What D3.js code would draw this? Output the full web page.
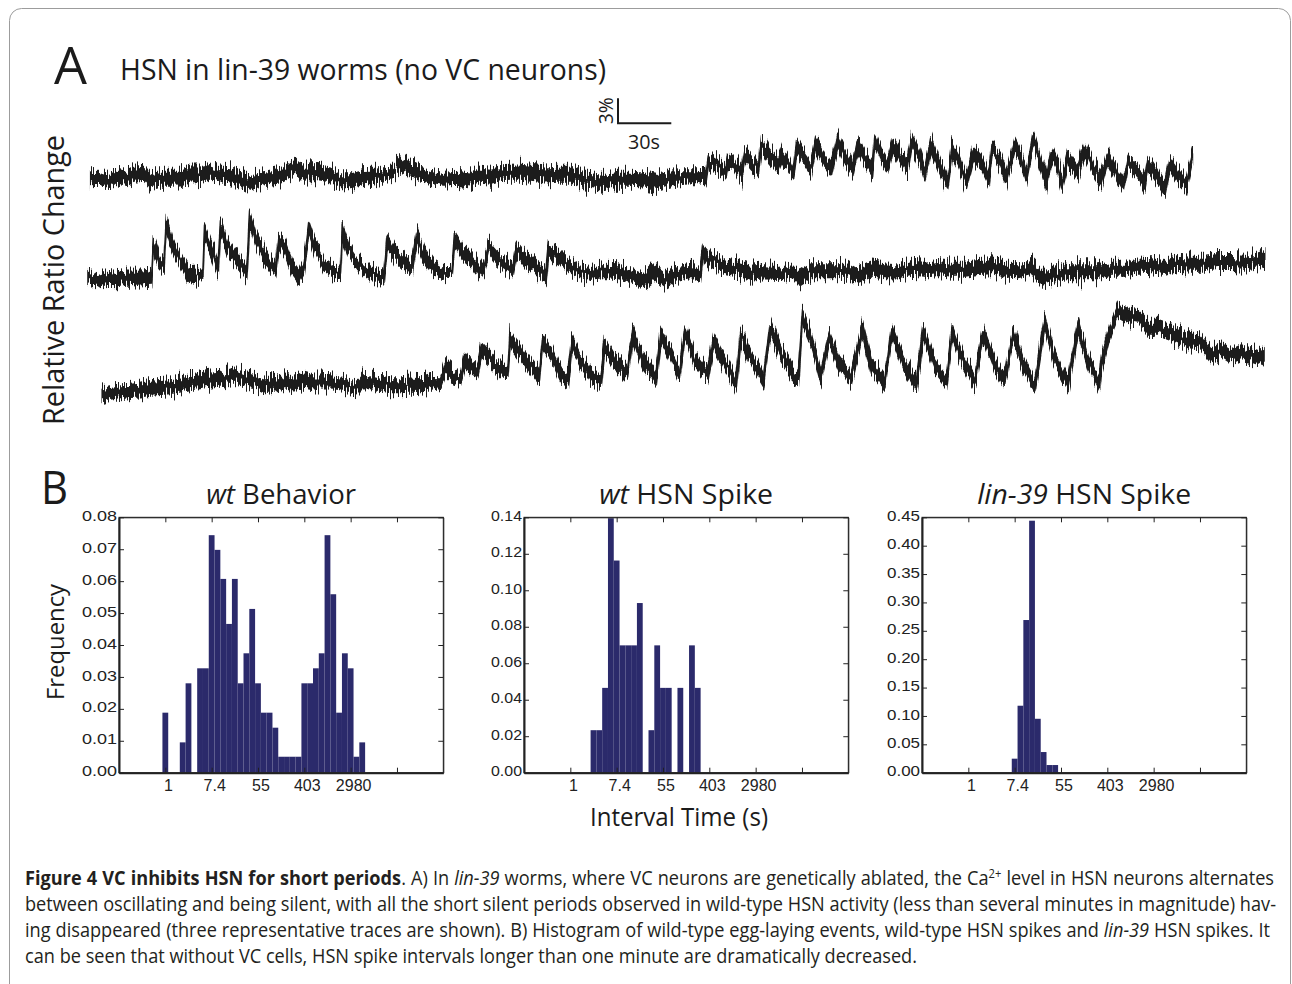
<!DOCTYPE html>
<html>
<head>
<meta charset="utf-8">
<title>Figure 4</title>
<script src="https://cdnjs.cloudflare.com/ajax/libs/d3/7.8.5/d3.min.js"></script>
<style>
  body { margin: 0; background: #fff; }
  svg { display: block; font-family: "Open Sans", sans-serif; }
</style>
</head>
<body>
<svg id="fig" width="1292" height="984">
  <defs>
    <!-- vertical-only jitter so the envelopes read as noisy recordings -->
    <filter id="jitter" x="-1%" y="-80%" width="102%" height="260%">
      <feTurbulence type="fractalNoise" baseFrequency="0.75 0.02" numOctaves="2" seed="7" result="n"/>
      <feComponentTransfer in="n" result="n2">
        <feFuncR type="linear" slope="0" intercept="0.5"/>
      </feComponentTransfer>
      <feDisplacementMap in="SourceGraphic" in2="n2" scale="26" xChannelSelector="R" yChannelSelector="G"/>
    </filter>
  </defs>
</svg>
<script>
// ---- panel A: HSN traces, [time (s), lower edge (%), upper edge (%)] ----
const trace1 = [
  [0.4,-1.4,1.7],[5.1,-0.8,1.2],[10.7,-2.0,1.6],[15.4,-0.6,1.6],[20.1,-1.6,2.0],[24.8,-0.8,2.2],[30.4,-0.4,2.0],
  [34.1,-1.4,1.2],[39.8,-0.8,1.2],[45.4,-1.2,1.6],[51.0,-0.8,1.3],[56.6,-0.6,1.8],[62.3,-0.3,1.6],[67.9,-0.7,2.6],
  [73.5,-1.8,3.0],[79.1,-1.4,2.4],[84.8,-1.8,2.2],[90.4,-1.8,1.0],[96.0,-0.8,1.0],[101.6,-0.5,1.3],[109.1,-0.3,1.6],
  [115.3,0.0,3.3],[120.4,-1.0,2.6],[127.9,-0.8,2.6],[135.4,-1.4,2.6],[141.0,-1.6,1.4],[146.6,-1.4,1.2],[154.1,-1.0,1.6],
  [161.6,-0.4,1.3],[169.1,0.0,1.6],[174.8,0.6,3.0],[180.4,-0.2,2.8],[186.0,-1.0,2.4],[191.6,-1.2,1.8],[199.1,-1.8,2.0],
  [206.6,-1.2,1.6],[214.1,-1.8,1.8],[218.3,-0.4,1.6],[225.8,-0.7,1.6],[233.3,-0.4,2.2],[240.8,-0.8,2.7],[248.3,-1.2,2.8],
  [255.8,-1.4,2.6],[263.3,-1.0,2.4],[270.8,-0.8,2.2],[278.3,-1.8,1.8],[283.0,-2.4,2.2],[289.5,-1.8,1.2],[297.0,-1.6,1.8],
  [304.5,-1.4,1.6],[312.0,-1.6,1.6],[319.5,-2.0,1.4],[327.0,-0.8,1.3],[334.5,-0.5,1.2],[342.0,-0.4,1.2],[346.7,-0.6,1.3],
  [348.0,1.2,3.5],[353.3,0.6,2.6],[358.0,0.0,1.8],[358.9,1.0,3.8],[362.6,1.1,2.8],[366.8,-0.3,1.6],[368.6,1.6,4.3],
  [372.4,0.9,3.1],[376.3,0.3,1.8],[378.0,3.0,5.8],[381.8,2.2,4.2],[387.0,0.9,2.8],[389.8,2.2,4.4],[393.6,1.2,3.0],
  [396.0,0.0,1.8],[397.7,2.8,5.2],[401.6,1.7,3.8],[405.8,0.4,2.4],[408.6,3.0,5.7],[413.3,1.1,3.8],[417.4,0.3,2.4],
  [420.8,3.4,6.2],[424.5,1.9,4.2],[429.2,-0.4,3.0],[432.0,2.8,5.5],[436.1,1.5,3.6],[440.4,-0.3,2.6],[441.8,3.2,6.2],
  [445.5,1.4,4.2],[448.9,0.2,3.0],[452.1,3.0,5.6],[456.8,1.0,4.2],[460.0,0.2,2.6],[462.4,3.4,6.0],[467.1,1.0,4.2],
  [469.9,-0.4,1.8],[473.3,3.0,6.0],[477.4,0.6,3.8],[482.7,-1.8,1.0],[485.3,2.2,5.2],[489.0,0.6,3.8],[493.3,-1.4,1.0],
  [497.1,1.8,4.4],[501.8,0.6,3.4],[505.9,-1.0,1.4],[507.8,2.2,5.0],[512.1,0.6,3.8],[515.8,-0.7,1.4],[520.5,2.8,5.6],
  [524.3,1.0,4.2],[527.1,-0.8,1.8],[530.8,3.4,6.4],[534.6,0.6,4.2],[538.3,-1.2,1.0],[541.1,1.8,4.4],[544.9,-0.1,3.0],
  [547.2,-1.4,0.6],[550.5,1.4,3.8],[556.1,-0.7,2.6],[559.9,2.2,5.0],[564.6,-0.1,3.0],[569.3,-1.0,1.0],[573.0,1.6,4.2],
  [577.7,-0.6,2.2],[581.5,-2.0,0.6],[584.3,1.2,3.6],[589.9,-0.5,2.6],[593.7,-1.8,1.0],[595.5,0.8,3.2],[600.2,-1.0,2.2],
  [604.9,-2.5,0.2],[607.7,0.8,3.0],[612.4,-0.6,1.6],[617.1,-1.6,0.6],[620.5,1.8,3.4]
];
const trace2 = [
  [0,-0.4,1.0],[5.3,-1.4,1.0],[10.9,-1.0,1.4],[16.5,-0.8,1.0],[22.1,-0.6,1.2],[27.8,-1.0,1.4],[33.4,-0.8,1.4],
  [35.8,-0.6,1.0],[36.8,3.0,5.6],[40.0,1.4,3.4],[42.8,0.8,2.6],[44.1,5.4,7.8],[47.4,3.0,5.4],[52.1,1.4,3.2],
  [56.8,-0.6,1.4],[61.5,-0.2,1.4],[64.7,0.2,1.2],[65.6,4.6,7.0],[69.9,2.6,4.6],[73.3,0.2,2.6],[74.6,5.4,7.8],
  [78.4,3.0,5.0],[84.0,1.4,3.4],[89.3,-0.4,2.2],[91.0,6.2,8.7],[94.3,3.8,6.2],[99.0,1.8,4.2],[105.6,0.4,1.8],
  [107.4,3.8,5.6],[111.2,2.6,4.6],[114.9,0.4,2.6],[118.7,-0.6,1.4],[121.5,0.4,2.6],[124.3,5.0,7.4],[128.1,2.6,5.0],
  [132.8,1.0,2.6],[138.4,0.2,1.8],[142.1,-0.2,2.2],[143.1,4.6,6.8],[146.8,2.6,4.4],[152.4,1.0,2.6],[159.0,0.0,1.4],
  [166.5,-0.6,1.2],[168.4,3.4,6.0],[173.1,1.8,4.2],[177.8,1.0,3.0],[182.4,0.4,2.6],[185.3,4.0,6.4],[189.0,2.2,4.2],
  [194.6,0.6,2.6],[200.3,-0.4,2.2],[204.9,0.6,1.8],[206.3,3.8,6.0],[210.6,2.2,4.6],[216.2,1.2,3.4],[220.5,0.0,2.2],
  [223.2,0.6,3.0],[225.4,2.6,5.2],[229.7,1.8,3.8],[234.4,1.0,3.0],[239.1,0.4,2.2],[241.0,2.6,4.6],[245.7,1.4,3.4],
  [252.2,0.6,2.2],[257.8,-0.8,1.8],[259.2,2.6,4.8],[264.4,1.8,3.8],[270.0,1.0,2.6],[275.7,0.2,1.8],[283.2,0.0,1.6],
  [290.7,0.2,2.0],[298.2,-0.2,2.2],[305.7,-0.8,1.8],[312.2,-1.8,1.6],[318.8,-0.4,2.2],[324.4,-1.6,1.6],[331.9,-0.2,1.8],
  [339.4,0.2,2.0],[344.7,-0.8,1.8],[346.3,2.2,4.8],[350.7,1.4,3.2],[358.2,0.4,2.8],[365.7,0.0,2.6],[373.2,-1.0,2.6],
  [380.7,-0.2,2.2],[388.2,-0.4,2.2],[395.7,0.2,2.2],[400.3,-1.2,1.6],[406.9,-0.2,2.4],[414.4,-0.2,2.4],[421.9,0.0,2.2],
  [427.5,-0.2,2.6],[433.1,-1.4,2.4],[441.0,0.0,2.4],[448.5,-0.2,2.2],[456.0,0.0,1.8],[463.5,0.2,2.6],[471.0,-0.2,2.8],
  [478.5,0.4,2.6],[486.0,0.0,2.6],[493.5,0.2,2.4],[501.0,0.4,2.6],[508.5,0.2,3.0],[516.0,-0.2,2.6],[523.5,-0.4,2.6],
  [531.0,0.4,2.6],[536.6,-0.8,1.4],[544.1,-0.2,1.4],[551.6,-0.2,2.2],[559.1,-0.6,2.6],[568.5,-1.0,3.0],[576.0,0.0,2.8],
  [583.5,0.2,2.6],[591.0,0.4,3.2],[598.5,0.4,3.0],[606.0,0.0,3.0],[613.5,0.6,3.4],[621.0,0.4,3.4],[628.5,0.6,3.2],
  [636.0,0.8,3.4],[643.5,0.6,3.6],[651.0,0.6,3.4],[658.5,0.8,3.8],[662.3,1.4,3.8]
];
const trace3 = [
  [0.7,-1.2,1.0],[5.4,-0.8,1.2],[11.1,-0.6,1.4],[16.7,-0.4,1.4],[22.3,-0.4,1.6],[27.9,-0.2,1.8],[33.6,-0.2,2.0],
  [39.2,0.0,2.0],[44.8,0.2,2.2],[50.4,0.4,2.6],[56.1,0.4,2.8],[61.7,0.8,2.8],[67.3,0.8,3.0],[74.8,1.2,3.6],
  [80.4,1.0,2.8],[86.1,0.8,2.6],[91.7,-0.2,2.6],[97.3,0.4,2.4],[102.9,0.6,2.6],[108.6,0.2,2.4],[114.2,0.6,3.0],
  [119.8,0.6,2.4],[125.4,0.6,2.4],[132.9,0.6,2.2],[138.6,0.4,2.0],[144.2,0.0,1.8],[147.0,0.6,2.4],[151.7,0.4,2.8],
  [157.3,0.2,2.4],[162.9,0.0,2.2],[168.6,-0.2,2.4],[174.2,-0.4,2.8],[179.8,-0.2,2.4],[185.4,0.0,3.0],[191.1,0.8,2.4],
  [193.9,2.4,4.4],[197.6,1.6,3.8],[202.3,1.4,3.0],[204.6,3.2,5.4],[208.9,2.4,4.0],[212.1,1.6,4.4],[214.3,4.4,6.6],
  [219.6,3.4,5.2],[225.2,2.0,4.0],[229.0,2.0,3.4],[230.3,5.6,8.0],[236.4,4.0,6.0],[242.1,2.4,4.4],[246.8,0.8,3.4],
  [248.6,5.2,7.6],[254.2,3.6,5.6],[258.9,1.2,3.6],[263.0,0.8,3.0],[265.1,5.2,7.4],[270.2,2.8,5.2],[275.8,1.2,3.2],
  [281.4,0.8,2.6],[283.3,4.8,7.2],[288.9,2.8,5.2],[296.4,1.6,3.6],[299.3,6.0,8.4],[304.9,3.2,5.2],[312.4,0.8,3.2],
  [315.2,6.0,8.4],[320.8,3.6,6.0],[325.5,1.6,3.6],[328.7,6.4,8.8],[333.9,3.2,5.6],[341.4,1.2,3.6],[344.8,5.2,7.6],
  [350.8,2.8,5.2],[357.4,-0.2,2.8],[360.2,6.0,8.4],[365.8,3.2,5.6],[372.9,0.4,3.2],[376.7,6.8,9.4],[382.7,3.6,6.4],
  [389.2,1.6,4.0],[392.5,1.2,3.4],[394.9,8.0,10.4],[399.6,5.6,8.0],[405.2,0.6,4.0],[409.9,5.6,8.2],[415.5,2.8,5.2],
  [422.1,0.8,3.2],[428.6,6.8,9.0],[433.7,2.0,4.8],[441.2,0.4,2.4],[445.0,6.4,8.8],[451.5,2.8,5.2],[459.0,0.0,2.4],
  [462.8,6.4,8.6],[469.3,2.4,4.8],[475.9,0.8,2.8],[479.1,6.4,8.6],[485.3,2.8,5.2],[491.8,0.4,2.8],[496.5,6.4,8.6],
  [503.1,2.4,4.8],[508.7,0.8,2.4],[513.4,6.2,8.6],[519.0,2.8,4.8],[525.6,-0.4,2.8],[531.2,7.6,10.2],[536.8,3.2,5.6],
  [544.3,0.0,2.4],[550.0,6.8,9.4],[555.6,2.8,5.2],[562.1,0.0,2.4],[563.1,2.4,4.8],[567.8,6.4,8.8],[572.5,8.8,11.4],
  [578.1,8.4,10.4],[583.7,8.0,10.4],[589.3,6.4,9.6],[595.0,6.8,9.2],[600.6,6.4,8.8],[606.2,6.0,8.2],[611.8,5.2,7.8],
  [618.3,5.2,7.6],[624.9,2.8,6.8],[630.6,4.0,6.8],[636.2,3.0,6.2],[641.8,4.0,6.4],[647.4,3.6,6.0],[651.2,2.8,6.2],
  [654.6,4.0,6.0]
];

// ---- panel B: histograms, bin centres in ln(interval) and frequencies ----
const behaviorLn   = [0, 0.75, 1.0, 1.5, 1.75, 2.0, 2.25, 2.5, 2.75, 3.0, 3.25, 3.5, 3.75, 4.0, 4.25, 4.5, 4.75,
                      5.0, 5.25, 5.5, 5.75, 6.0, 6.25, 6.5, 6.75, 7.0, 7.25, 7.5, 7.75, 8.0, 8.25, 8.5];
const behaviorFreq = [0.0188, 0.0095, 0.028, 0.0327, 0.0327, 0.0744, 0.0698, 0.0607, 0.0466, 0.0607, 0.028, 0.0374,
                      0.0513, 0.028, 0.0188, 0.0188, 0.0141, 0.005, 0.005, 0.005, 0.005, 0.028, 0.028, 0.0327, 0.0374,
                      0.0744, 0.0559, 0.0188, 0.0374, 0.0327, 0.005, 0.0095];
const wtSpikeLn    = [1.0, 1.25, 1.5, 1.75, 2.0, 2.25, 2.5, 2.75, 3.0, 3.5, 3.75, 4.0, 4.25, 4.75, 5.25, 5.5];
const wtSpikeFreq  = [0.0233, 0.0233, 0.0465, 0.1395, 0.1163, 0.0698, 0.0698, 0.0698, 0.093, 0.0233, 0.0698,
                      0.0465, 0.0465, 0.0465, 0.0698, 0.0465];
const linSpikeLn   = [2.0, 2.25, 2.5, 2.75, 3.0, 3.25, 3.5, 3.75];
const linSpikeFreq = [0.0247, 0.118, 0.269, 0.444, 0.095, 0.0364, 0.0135, 0.0135];

const xTickLn     = [0, 2, 4, 6, 8, 10];
const xTickLabels = ['1', '7.4', '55', '403', '2980', ''];

const captionLines = [
  [['Figure 4 VC inhibits HSN for short periods', 'b'], ['. A) In ', ''], ['lin-39', 'i'],
   [' worms, where VC neurons are genetically ablated, the Ca', ''], ['2+', 'sup'], [' level in HSN neurons alternates', '']],
  [['between oscillating and being silent, with all the short silent periods observed in wild-type HSN activity (less than several minutes in magnitude) hav-', '']],
  [['ing disappeared (three representative traces are shown). B) Histogram of wild-type egg-laying events, wild-type HSN spikes and ', ''],
   ['lin-39', 'i'], [' HSN spikes. It', '']],
  [['can be seen that without VC cells, HSN spike intervals longer than one minute are dramatically decreased.', '']]
];

const svg = d3.select('#fig');
const ink = '#1b1b1b';
const barColor = '#2b2a6b';

// outer frame
svg.append('rect').attr('x', 9.5).attr('y', 8.5).attr('width', 1281).attr('height', 1010)
  .attr('rx', 12).attr('fill', 'none').attr('stroke', '#9c9c9c').attr('stroke-width', 1);

function fit(sel, w) { return sel.attr('textLength', w).attr('lengthAdjust', 'spacingAndGlyphs'); }

// ---------- panel A ----------
fit(svg.append('text').attr('x', 54).attr('y', 84).attr('font-size', 52).attr('fill', ink).text('A'), 33);
fit(svg.append('text').attr('x', 120).attr('y', 80).attr('font-size', 30).attr('fill', ink)
  .text('HSN in lin-39 worms (no VC neurons)'), 486);
fit(svg.append('text').attr('transform', 'translate(64,280) rotate(-90)').attr('text-anchor', 'middle')
  .attr('font-size', 29).attr('fill', ink).text('Relative Ratio Change'), 290);

// 1.778 px per second, 8.33 px per percent (from the 30 s / 3% scale bar)
const tx = d3.scaleLinear().domain([0, 30]).range([0, 53.3]);
const ty = d3.scaleLinear().domain([0, 3]).range([0, -25]);

// core of the noisy band: centred on the envelope, narrower than its full reach
const half = d => Math.min(0.42 * (d[2] - d[1]), 0.8);
const band = d3.area().x(d => tx(d[0]))
  .y0(d => ty((d[1] + d[2]) / 2 - half(d)))
  .y1(d => ty((d[1] + d[2]) / 2 + half(d)));
[[trace1, 90, 180], [trace2, 88, 280], [trace3, 101, 395]].forEach(([data, x0, y0]) => {
  svg.append('g').attr('transform', `translate(${x0},${y0})`)
    .append('path').datum(data)
    .attr('d', band)
    .attr('fill', ink).attr('stroke', ink).attr('stroke-width', 1.6).attr('stroke-linejoin', 'round')
    .attr('filter', 'url(#jitter)');
});

// scale bar
const sb = svg.append('g').attr('transform', 'translate(618,123.3)');
sb.append('path').attr('d', `M0,${ty(3)}V0H${tx(30)}`).attr('fill', 'none').attr('stroke', ink).attr('stroke-width', 2);
fit(sb.append('text').attr('x', 10).attr('y', 26).attr('font-size', 20).attr('fill', ink).text('30s'), 32);
fit(sb.append('text').attr('transform', 'translate(-5,-12.5) rotate(-90)').attr('text-anchor', 'middle')
  .attr('font-size', 20).attr('fill', ink).text('3%'), 27);

// ---------- panel B ----------
fit(svg.append('text').attr('x', 41).attr('y', 504).attr('font-size', 45).attr('fill', ink).text('B'), 27);

const W = 324.3, H = 255.4, TOP = 517.3;
const hists = [
  { left: 119, ln: behaviorLn, f: behaviorFreq, ymax: 0.08, step: 0.01, it: 'wt', rest: ' Behavior', tw: 150, lw: 35 },
  { left: 524, ln: wtSpikeLn, f: wtSpikeFreq, ymax: 0.14, step: 0.02, it: 'wt', rest: ' HSN Spike', tw: 174, lw: 31 },
  { left: 922, ln: linSpikeLn, f: linSpikeFreq, ymax: 0.45, step: 0.05, it: 'lin-39', rest: ' HSN Spike', tw: 214, lw: 33 }
];

hists.forEach(h => {
  const g = svg.append('g').attr('transform', `translate(${h.left},${TOP})`);
  const x = d3.scaleLog().base(Math.E).domain([Math.exp(-2), Math.exp(12)]).range([0, W]);
  const y = d3.scaleLinear().domain([0, h.ymax]).range([H, 0]);
  const bins = h.ln.map((c, i) => ({ c, f: h.f[i] }));

  g.selectAll('rect.bar').data(bins).join('rect').attr('class', 'bar')
    .attr('x', d => x(Math.exp(d.c - 0.125)))
    .attr('width', d => x(Math.exp(d.c + 0.125)) - x(Math.exp(d.c - 0.125)))
    .attr('y', d => y(d.f)).attr('height', d => H - y(d.f))
    .attr('fill', barColor);

  const yTicks = d3.range(0, h.ymax + 1e-9, h.step);
  const xTicks = xTickLn.map(v => Math.exp(v));

  g.append('rect').attr('width', W).attr('height', H).attr('fill', 'none').attr('stroke', '#222').attr('stroke-width', 1);

  const yl = g.append('g').call(d3.axisLeft(y).tickValues(yTicks).tickSize(-5).tickSizeOuter(0)
    .tickPadding(2).tickFormat(d3.format('.2f')));
  const xb = g.append('g').attr('transform', `translate(0,${H})`)
    .call(d3.axisBottom(x).tickValues(xTicks).tickSize(-5).tickSizeOuter(0).tickPadding(7)
      .tickFormat((d, i) => xTickLabels[i]));
  g.append('g').call(d3.axisTop(x).tickValues(xTicks).tickSize(-5).tickSizeOuter(0).tickFormat(''));
  g.append('g').attr('transform', `translate(${W},0)`)
    .call(d3.axisRight(y).tickValues(yTicks).tickSize(-5).tickSizeOuter(0).tickFormat(''));

  g.selectAll('.domain').attr('stroke', '#222').attr('stroke-width', 1);
  yl.select('.domain').attr('stroke-width', 2);
  xb.select('.domain').attr('stroke-width', 2);
  g.selectAll('.tick line').attr('stroke', '#222');
  yl.selectAll('text').attr('font-family', '"Liberation Sans", Arial, sans-serif').attr('font-size', 15.5)
    .attr('fill', '#222').attr('dy', '0.2em')
    .attr('textLength', h.lw).attr('lengthAdjust', 'spacingAndGlyphs');
  xb.selectAll('text').attr('font-family', '"Liberation Sans", Arial, sans-serif').attr('font-size', 16)
    .attr('fill', '#222').attr('dx', 2.5);

  const t = svg.append('text').attr('x', h.left + W / 2).attr('y', 504).attr('text-anchor', 'middle')
    .attr('font-size', 27).attr('fill', ink);
  t.append('tspan').attr('font-style', 'italic').text(h.it);
  t.append('tspan').text(h.rest);
  fit(t, h.tw);
});

fit(svg.append('text').attr('transform', 'translate(64,642) rotate(-90)').attr('text-anchor', 'middle')
  .attr('font-size', 24).attr('fill', ink).text('Frequency'), 116);
fit(svg.append('text').attr('x', 679).attr('y', 826).attr('text-anchor', 'middle')
  .attr('font-size', 25).attr('fill', ink).text('Interval Time (s)'), 178);

// ---------- caption ----------
const capBase = [885, 911, 937, 963];
const capWidth = [1249, 1251, 1245, null];
const cap = svg.append('g').attr('transform', 'translate(25,0)');
const capInner = cap.append('g');
const capTexts = captionLines.map((segs, li) => {
  const t = capInner.append('text').attr('x', 0).attr('y', capBase[li])
    .attr('font-size', 19.5).attr('fill', '#231f20');
  let raised = false;
  segs.forEach(([s, st]) => {
    const ts = t.append('tspan').text(s);
    if (st === 'b') ts.attr('font-weight', 700);
    if (st === 'i') ts.attr('font-style', 'italic');
    if (st === 'sup') { ts.attr('font-size', 12).attr('dy', -7); raised = true; }
    else if (raised) { ts.attr('dy', 7); raised = false; }
  });
  return t;
});
const natural4 = capTexts[3].node().getComputedTextLength();
const sx = (918 - 25) / natural4;
capInner.attr('transform', `scale(${sx},1)`);
capTexts.forEach((t, i) => {
  if (!capWidth[i]) return;
  const full = captionLines[i].map(s => s[0]).join('');
  const spaces = (full.match(/ /g) || []).length;
  const extra = (capWidth[i] / sx - t.node().getComputedTextLength()) / spaces;
  t.style('word-spacing', extra + 'px');
});
</script>
</body>
</html>
